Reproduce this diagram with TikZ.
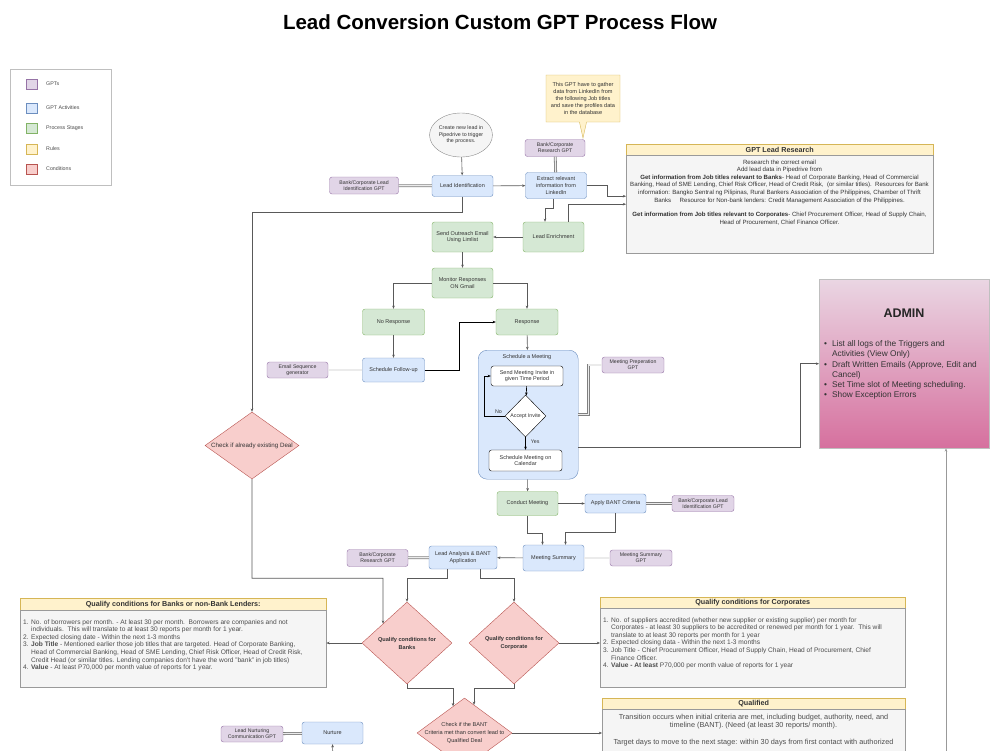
\documentclass[tikz,border=0pt]{standalone}
\usepackage{fontspec}
\setmainfont{Liberation Sans}
\usetikzlibrary{shapes.geometric,shapes.callouts,arrows.meta,calc}
\definecolor{fillgpt}{HTML}{E1D5E7}
\definecolor{linegpt}{HTML}{9673A6}
\definecolor{fillact}{HTML}{DAE8FC}
\definecolor{lineact}{HTML}{6C8EBF}
\definecolor{fillstage}{HTML}{D5E8D4}
\definecolor{linestage}{HTML}{82B366}
\definecolor{fillrule}{HTML}{FFF2CC}
\definecolor{linerule}{HTML}{D6B656}
\definecolor{fillcond}{HTML}{F8CECC}
\definecolor{linecond}{HTML}{B85450}
\definecolor{fillnote}{HTML}{F5F5F5}
\definecolor{linenote}{HTML}{9A9A9A}
\definecolor{admtop}{HTML}{EAD6E3}
\definecolor{admbot}{HTML}{D6709E}
\newcommand{\fsz}[2]{\fontsize{#1}{#2}\selectfont}

\begin{document}
\begin{tikzpicture}[x=1pt,y=-1pt,
    every node/.style={inner sep=0pt, text=black!80},
    box/.style={rectangle, rounded corners=2.5pt, align=center, font=\fsz{5.5}{6.6}, minimum width=61, minimum height=26},
    gpt/.style={box, fill=fillgpt, draw=linegpt, minimum width=62, minimum height=16, font=\fsz{5.2}{6.2}},
    act/.style={box, fill=fillact, draw=lineact},
    stage/.style={box, fill=fillstage, draw=linestage},
    plain/.style={box, fill=white, draw=black},
    cond/.style={diamond, fill=fillcond, draw=linecond},
    flow/.style={draw=black!65, line width=0.6pt, -{Stealth[length=3.2pt,width=2.6pt]}},
    link/.style={draw=black!50, double=black!8, double distance=1.2pt, line width=0.8pt},
    head/.style={rectangle, fill=fillrule, draw=linerule, anchor=north west, font=\bfseries\fsz{7.2}{8.4}},
    body/.style={rectangle, fill=fillnote, draw=linenote, anchor=north west},
]
\useasboundingbox (0,0) rectangle (1000,750);
\clip (0,0) rectangle (1000,750);

\node[font=\bfseries\fsz{20.5}{24}, text=black] (title) at (500,22) {Lead Conversion Custom GPT Process Flow};

% legend
\node[draw=black!25, fill=white, minimum width=101, minimum height=116] (legend) at (61,127) {};
\foreach \y/\c/\t [count=\i] in {84/gpt/GPTs, 108/act/GPT Activities, 128/stage/Process Stages, 149/rule/Rules, 169/cond/Conditions}{
    \node[draw=line\c, fill=fill\c, minimum width=11, minimum height=10] (sw\i) at (31.5,\y) {};
    \node[anchor=west, font=\fsz{5.3}{6}, text=black!70] (lg\i) at (46,\y) {\t};
}

% top row
\node[ellipse, draw=black!45, fill=fillnote, minimum width=60, minimum height=44, align=center, font=\fsz{5.3}{6.6}] (start) at (461,135) {Create new lead in\\Pipedrive to trigger\\the process.};
\node[rectangle callout, fill=fillrule, draw=linerule, minimum width=74, minimum height=47, align=center, font=\fsz{5.6}{7}, callout absolute pointer={(583,138)}] (note) at (583,98.5) {This GPT have to gather\\data from LinkedIn from\\the following Job titles\\and save the profiles data\\in the database};
\node[gpt, minimum width=69, minimum height=17] (gptLeadId) at (364,185.5) {Bank/Corporate Lead\\Identification GPT};
\node[act, minimum height=21] (leadId) at (462.5,186) {Lead Identification};
\node[gpt, minimum width=60, minimum height=17] (gptResearch) at (555,148) {Bank/Corporate\\Research GPT};
\node[act] (extract) at (556,185.5) {Extract relevant\\information from\\LinkedIn};

\node[head, minimum width=307, minimum height=11] (lrHead) at (626,144) {GPT Lead Research};
\node[body, minimum width=307, minimum height=98] (lrBody) at (626,155) {};
\node[anchor=north, align=center, font=\fsz{6.1}{7.6}] (lrText) at (779.5,159.5) {Research the correct email\\
Add lead data in Pipedrive from\\
\textbf{Get information from Job titles relevant to Banks}- Head of Corporate Banking, Head of Commercial\\
Banking, Head of SME Lending, Chief Risk Officer, Head of Credit Risk,\ \ (or similar titles).\ \ Resources for Bank\\
information: Bangko Sentral ng Pilipinas, Rural Bankers Association of the Philippines, Chamber of Thrift\\
Banks\ \ \ \ \ Resource for Non-bank lenders: Credit Management Association of the Philippines.\\[7pt]
\textbf{Get information from Job titles relevant to Corporates}- Chief Procurement Officer, Head of Supply Chain,\\
Head of Procurement, Chief Finance Officer.};

\node[stage] (enrich) at (553.5,237) [minimum height=30] {Lead Enrichment};
\node[stage, minimum height=30] (sendOut) at (462.5,237) {Send Outreach Email\\Using Limlist};
\node[stage, minimum height=30] (monitor) at (462.5,283) {Monitor Responses\\ON Gmail};
\node[stage, minimum width=62] (noResp) at (393.5,322) {No Response};
\node[stage, minimum width=62] (resp) at (527,322) {Response};
\node[act, minimum width=62, minimum height=24] (followUp) at (393.5,370) {Schedule Follow-up};
\node[gpt, minimum width=61] (gptEmail) at (297.5,370) {Email Sequence\\generator};
\node[cond, minimum width=94, minimum height=67, label={[font=\fsz{6.2}{7}]center:Check if already existing Deal}] (checkDeal) at (252,445.5) {};

% schedule a meeting
\node[draw=lineact, fill=fillact, rounded corners=9pt, minimum width=100, minimum height=129, anchor=north west] (meetBox) at (478,350) {};
\node[font=\fsz{5.5}{6.6}] (meetLbl) at (527,357) {Schedule a Meeting};
\node[plain, minimum width=72, minimum height=20] (invite) at (527,376) {Send Meeting Invite in\\given Time Period};
\node[diamond, draw=black, fill=white, minimum width=41, minimum height=42, label={[font=\fsz{5.3}{6}]center:Accept Invite}] (accept) at (525.5,416) {};
\node[plain, minimum width=73, minimum height=21] (calendar) at (525.5,460.5) {Schedule Meeting on\\Calendar};
\node[gpt] (gptPrep) at (633,365) {Meeting Preperation\\GPT};

\node[draw=black!25, top color=admtop, bottom color=admbot, minimum width=170, minimum height=169, anchor=north west] (admin) at (819,279) {};
\node[font=\bfseries\fsz{12.5}{15}, text=black!85] (adminTitle) at (904,313) {ADMIN};
\node[anchor=north west, align=left, font=\fsz{8.3}{10.3}] (adminList) at (824,339) {\begin{tabular}{@{}l@{\hspace{5pt}}l@{}}
\textbullet & List all logs of the Triggers and\\
 & Activities (View Only)\\
\textbullet & Draft Written Emails (Approve, Edit and\\
 & Cancel)\\
\textbullet & Set Time slot of Meeting scheduling.\\
\textbullet & Show Exception Errors
\end{tabular}};

% meeting outcome
\node[stage, minimum height=24] (conduct) at (527.5,503.5) {Conduct Meeting};
\node[act, minimum height=19] (bant) at (615.5,503.5) {Apply BANT Criteria};
\node[gpt] (gptLeadId2) at (703,503.5) {Bank/Corporate Lead\\Identification GPT};
\node[act] (summary) at (553.5,558) {Meeting Summary};
\node[gpt] (gptSummary) at (641,558) {Meeting Summary\\GPT};
\node[act, minimum width=68, minimum height=23] (analysis) at (463,557.5) {Lead Analysis \& BANT\\Application};
\node[gpt, minimum width=61, minimum height=17] (gptResearch2) at (377.5,558) {Bank/Corporate\\Research GPT};

\node[cond, minimum width=90, minimum height=82, label={[font=\bfseries\fsz{5.6}{8}, align=center]center:{Qualify conditions for\\Banks}}] (banksDia) at (407,643) {};
\node[cond, minimum width=90, minimum height=82, label={[font=\bfseries\fsz{5.6}{8}, align=center]center:{Qualify conditions for\\Corporate}}] (corpDia) at (514,643) {};

\node[head, minimum width=306, minimum height=12] (banksHead) at (20,598) {Qualify conditions for Banks or non-Bank Lenders:};
\node[body, minimum width=306, minimum height=77] (banksBody) at (20,610) {};
\node[anchor=north west, font=\fsz{6.6}{7.6}, text=black!70] (banksText) at (23,618.5) {\begin{tabular}{@{}r@{\hspace{2.5pt}}l@{}}
1. & No. of borrowers per month. - At least 30 per month.\ \ Borrowers are companies and not\\
 & individuals.\ \ This will translate to at least 30 reports per month for 1 year.\\
2. & Expected closing date - Within the next 1-3 months\\
3. & \textbf{Job Title} - Mentioned earlier those job titles that are targeted. Head of Corporate Banking,\\
 & Head of Commercial Banking, Head of SME Lending, Chief Risk Officer, Head of Credit Risk,\\
 & Credit Head (or similar titles. Lending companies don't have the word "bank" in job titles)\\
4. & \textbf{Value} - At least P70,000 per month value of reports for 1 year.
\end{tabular}};

\node[head, minimum width=305, minimum height=11] (corpHead) at (600,597) {Qualify conditions for Corporates};
\node[body, minimum width=305, minimum height=79] (corpBody) at (600,608) {};
\node[anchor=north west, font=\fsz{6.6}{7.6}, text=black!70] (corpText) at (603,616.5) {\begin{tabular}{@{}r@{\hspace{2.5pt}}l@{}}
1. & No. of suppliers accredited (whether new supplier or existing supplier) per month for\\
 & Corporates - at least 30 suppliers to be accredited or renewed per month for 1 year.\ \ This will\\
 & translate to at least 30 reports per month for 1 year\\
2. & Expected closing data - Within the next 1-3 months\\
3. & Job Title - Chief Procurement Officer, Head of Supply Chain, Head of Procurement, Chief\\
 & Finance Officer.\\
4. & \textbf{Value - At least} P70,000 per month value of reports for 1 year
\end{tabular}};

% bottom
\node[cond, minimum width=95, minimum height=70, label={[font=\fsz{5.6}{7.8}, align=center]center:{Check if the BANT\\Criteria met than convert lead to\\Qualified Deal}}] (checkBant) at (464.5,733) {};
\node[head, minimum width=303, minimum height=11] (qualHead) at (602,698) {Qualified};
\node[body, minimum width=303, minimum height=70] (qualBody) at (602,709) {};
\node[anchor=north, align=center, font=\fsz{7.3}{8.8}, text=black!70] (qualText) at (753.5,713.5) {Transition occurs when initial criteria are met, including budget, authority, need, and\\
timeline (BANT). (Need (at least 30 reports/ month).\\[8pt]
Target days to move to the next stage: within 30 days from first contact with authorized};
\node[act, minimum height=22] (nurture) at (332.5,733) {Nurture};
\node[gpt, minimum height=16] (gptNurture) at (252,734) {Lead Nurturing\\Communication GPT};
\coordinate (nurFrom) at (333,760);
\coordinate (admFrom) at (946,760);

% connectors
\draw[flow] (start) -- (leadId);
\draw[link] (gptLeadId) -- (leadId);
\draw[link] (gptResearch) -- (extract);
\draw[flow] (leadId) -- (extract);
\draw[flow] (extract.east) -- ++(21,0) |- ([yshift=8pt]lrBody.west);
\draw[flow] ([xshift=14.5pt]enrich.north) |- (lrBody.west);
\draw[flow] ([xshift=-3pt]extract.south) -- ++(0,10) -| ([xshift=-8.5pt]enrich.north);
\draw[flow] (enrich) -- (sendOut);
\draw[flow] (leadId.south) -- ++(0,16) -| (checkDeal.north);
\draw[flow] (sendOut) -- (monitor);
\draw[flow] (monitor.west) -| (noResp.north);
\draw[flow] (monitor.east) -| (resp.north);
\draw[flow] (noResp) -- (followUp);
\draw[link] (gptEmail) -- (followUp);
\draw[flow, draw=black] (followUp.east) -- ++(35,0) |- (resp.west);
\draw[flow] (resp) -- (meetBox);
\draw[flow, draw=black] (invite) -- (accept);
\draw[flow, draw=black] (accept.west) -- node[above=2pt, pos=0.3, font=\fsz{5.3}{6}] (noLbl) {No} ++(-21,0) |- (invite.west);
\draw[flow, draw=black] (accept.south) -- node[right=5pt, pos=0.35, font=\fsz{5.3}{6}] (yesLbl) {Yes} (calendar.north);
\draw[link] (meetBox.east) -- ++(10,0) |- (gptPrep.west);
\draw[flow] ([yshift=-32.5pt]meetBox.east) -- ++(222,0) |- (admin.west);
\draw[flow] (meetBox) -- (conduct);
\draw[flow] (conduct) -- (bant);
\draw[link] (bant) -- (gptLeadId2);
\draw[flow] (conduct.south) -- ++(0,18) -| ([xshift=-11pt]summary.north);
\draw[flow] (bant.south) -- ++(0,19) -| ([xshift=12pt]summary.north);
\draw[link] (gptSummary) -- (summary);
\draw[flow] (summary) -- (analysis);
\draw[link] (gptResearch2) -- (analysis);
\draw[flow] ([xshift=-16pt]analysis.south) -- ++(0,9) -| (banksDia.north);
\draw[flow] ([xshift=17pt]analysis.south) -- ++(0,9) -| (corpDia.north);
\draw[flow] (checkDeal.south) |- ++(131,99) -- ($(banksDia.north)!0.53!(banksDia.west)$);
\draw[flow] (banksDia.west) -- (banksDia.west -| banksBody.east);
\draw[flow] (corpDia.east) -- (corpDia.east -| corpBody.west);
\draw[flow] (banksDia.south) -- ++(0,4) -| ($(checkBant.north)!0.24!(checkBant.west)$);
\draw[flow] (corpDia.south) -- ++(0,4) -| ($(checkBant.north)!0.2!(checkBant.east)$);
\draw[flow] (checkBant.east) -- (checkBant.east -| qualBody.west);
\draw[link] (gptNurture) -- (nurture);
\draw[flow] (nurFrom) -- (nurture.south);
\draw[flow, draw=black!40] (admFrom) -- (admFrom |- admin.south);
\end{tikzpicture}
\end{document}
